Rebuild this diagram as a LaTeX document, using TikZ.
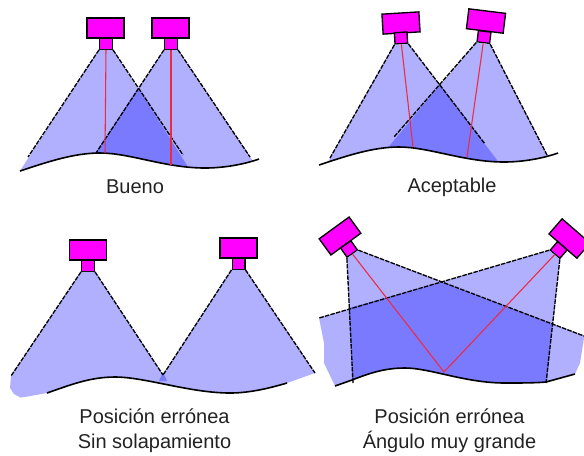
\documentclass[tikz,border=0pt]{standalone}
\usepackage{fontspec}
\setmainfont{Liberation Sans}
\definecolor{camcol}{HTML}{FF00FF}
\definecolor{viewcol}{HTML}{B0B0FF}
\definecolor{bothcol}{HTML}{7A7AFF}
\definecolor{raycol}{HTML}{EE2A40}
\definecolor{txtcol}{HTML}{222222}

\begin{document}
\begin{tikzpicture}[
  x=0.75pt,y=-0.75pt,
  head/.style={draw,fill=camcol,line width=1pt,inner sep=0pt,minimum width=27.75pt,minimum height=15pt},
  neck/.style={draw,fill=camcol,line width=1pt,inner sep=0pt,minimum width=9.5pt,minimum height=8.5pt},
  view/.style={fill=viewcol},
  both/.style={fill=bothcol},
  edgeline/.style={line width=1pt,dash pattern=on 3.4pt off 0.9pt},
  ray/.style={draw=raycol,line width=0.8pt},
  ground/.style={line width=1.2pt},
  caption/.style={font=\fontsize{15}{18.75}\selectfont,align=center,text=txtcol,inner sep=0pt}
]
\useasboundingbox (0,0) rectangle (584,455);
\clip (0,0) rectangle (584,455);

% top left
\node[head] (headAl) at (105.5,28) {};
\node[neck] (neckAl) at (106,43.5) {};
\node[head] (headAr) at (170.5,28) {};
\node[neck] (neckAr) at (171,43.5) {};
\coordinate (footAa) at (28,157);
\coordinate (footAb) at (183,155);
\coordinate (footAc) at (96,153);
\coordinate (footAd) at (250,157);
\coordinate (hitAl) at (105,153);
\coordinate (hitAr) at (171,165);
\begin{scope}
  \clip (20,171) .. controls (50,161) and (75,153) .. (100,153) .. controls (130,153) and (165,168) .. (205,168) .. controls (225,168) and (245,164) .. (259,159) -- (259,0) -- (20,0) -- cycle;
  \fill[view] (neckAl.south west) -- (20.5,170) -- (100,190) -- (190,170) -- (neckAl.south east) -- cycle;
  \fill[view] (neckAr.south west) -- (92,159) -- (170,190) -- (253,161) -- (neckAr.south east) -- cycle;
  \fill[both] (138,88) -- (92,159) -- (140,190) -- (190,170) -- cycle;
\end{scope}
\draw[ground] (20,171) .. controls (50,161) and (75,153) .. (100,153) .. controls (130,153) and (165,168) .. (205,168) .. controls (225,168) and (245,164) .. (259,159);
\draw[edgeline] (neckAl.south west) -- (footAa);
\draw[edgeline] (neckAl.south east) -- (footAb);
\draw[edgeline] (neckAr.south west) -- (footAc);
\draw[edgeline] (neckAr.south east) -- (footAd);
\draw[ray] (neckAl.south) -- (hitAl);
\draw[ray] (neckAr.south) -- (hitAr);
\node[caption] (labelA) at (135,187) {Bueno};

% top right
\node[head,rotate=3.5] (headBl) at (401,23) {};
\node[neck,rotate=3.5] (neckBl) at (401,38) {};
\node[head,rotate=-7] (headBr) at (486,21) {};
\node[neck,rotate=-7] (neckBr) at (484,37) {};
\coordinate (footBa) at (330,158);
\coordinate (footBb) at (485,144);
\coordinate (footBc) at (394,137);
\coordinate (footBd) at (547,155);
\coordinate (hitBl) at (413,147);
\coordinate (hitBr) at (467,157);
\begin{scope}
  \clip (319,165) .. controls (349,155) and (374,147) .. (399,147) .. controls (429,147) and (464,162) .. (504,162) .. controls (524,162) and (544,158) .. (558,153) -- (558,0) -- (319,0) -- cycle;
  \fill[view] (neckBl.south west) -- (328,162) -- (410,190) -- (500,164) -- (neckBl.south east) -- cycle;
  \fill[view] (neckBr.south west) -- (386,150) -- (470,190) -- (549,158) -- (neckBr.south east) -- cycle;
  \fill[both] (440,85) -- (386,150) -- (450,190) -- (500,164) -- cycle;
\end{scope}
\draw[ground] (319,165) .. controls (349,155) and (374,147) .. (399,147) .. controls (429,147) and (464,162) .. (504,162) .. controls (524,162) and (544,158) .. (558,153);
\draw[edgeline] (neckBl.south west) -- (footBa);
\draw[edgeline] (neckBl.south east) -- (footBb);
\draw[edgeline] (neckBr.south west) -- (footBc);
\draw[edgeline] (neckBr.south east) -- (footBd);
\draw[ray] (neckBl.south) -- (hitBl);
\draw[ray] (neckBr.south) -- (hitBr);
\node[caption] (labelB) at (452,187) {Aceptable};

% bottom left
\node[head] (headCl) at (88,250) {};
\node[neck] (neckCl) at (88,265.5) {};
\node[head] (headCr) at (238.5,248) {};
\node[neck] (neckCr) at (238.5,263.5) {};
\coordinate (footCa) at (11,376);
\coordinate (footCb) at (163,375);
\coordinate (footCc) at (163,375);
\coordinate (footCd) at (315,373);
\begin{scope}
  \clip (25,397) -- (47,393) .. controls (70,385) and (90,377) .. (115,377) .. controls (145,377) and (190,393) .. (230,393) .. controls (250,393) and (270,388) .. (287,383) -- (315,373) -- (330,200) -- (0,200) -- (0,400) -- cycle;
  \fill[view] (neckCl.south west) -- (footCa) -- (10,388) -- (14,394) -- (25,400) -- (170,400) -- (footCb) -- (neckCl.south east) -- cycle;
  \fill[view] (neckCr.south west) -- (footCc) -- (155,400) -- (315,400) -- (footCd) -- (neckCr.south east) -- cycle;
  \fill[both] (163,372) -- (159,381) -- (167,381) -- cycle;
\end{scope}
\draw[ground] (47,393) .. controls (70,385) and (90,377) .. (115,377) .. controls (145,377) and (190,393) .. (230,393) .. controls (250,393) and (270,388) .. (287,383);
\draw[edgeline] (neckCl.south west) -- (footCa);
\draw[edgeline] (neckCl.south east) -- (footCb);
\draw[edgeline] (neckCr.south west) -- (footCc);
\draw[edgeline] (neckCr.south east) -- (footCd);
\node[caption] (labelC) at (154.5,430.5) {Posición errónea\\Sin solapamiento};

% bottom right
\node[head,rotate=36] (headDl) at (340,236) {};
\node[neck,rotate=35] (neckDl) at (349,249) {};
\node[head,rotate=-41] (headDr) at (569.5,238.5) {};
\node[neck,rotate=-41] (neckDr) at (558.7,250) {};
\coordinate (footDa) at (353,383);
\coordinate (footDb) at (584,336);
\coordinate (footDc) at (319,318);
\coordinate (footDd) at (546,383);
\coordinate (hitD) at (444,372);
\begin{scope}
  \clip (335,386) -- (352,380) .. controls (370,373) and (385,368) .. (405,368) .. controls (430,368) and (465,383) .. (505,383) .. controls (520,383) and (535,383) .. (546,382) -- (575,374) -- (580,363) -- (584,338) -- (600,200) -- (310,200) -- (319,318) -- (324,343) -- (324,363) -- cycle;
  \fill[view] (neckDl.south west) -- (353,395) -- (580,395) -- (590,338) -- (neckDl.south east) -- cycle;
  \fill[view] (neckDr.south west) -- (footDc) -- (300,395) -- (546,395) -- (neckDr.south east) -- cycle;
  \fill[both] (442,282) -- (349,308) -- (353,395) -- (546,395) -- (552,324) -- cycle;
\end{scope}
\draw[ground] (335,386) -- (352,380) .. controls (370,373) and (385,368) .. (405,368) .. controls (430,368) and (465,383) .. (505,383) .. controls (520,383) and (535,383) .. (546,382) -- (575,374);
\draw[edgeline] (neckDl.south west) -- (footDa);
\draw[edgeline] (neckDl.south east) -- (footDb);
\draw[edgeline] (neckDr.south west) -- (footDc);
\draw[edgeline] (neckDr.south east) -- (footDd);
\draw[ray] (neckDl.south) -- (hitD);
\draw[ray] (neckDr.south) -- (hitD);
\node[caption] (labelD) at (449.5,430.5) {Posición errónea\\Ángulo muy grande};
\end{tikzpicture}
\end{document}
